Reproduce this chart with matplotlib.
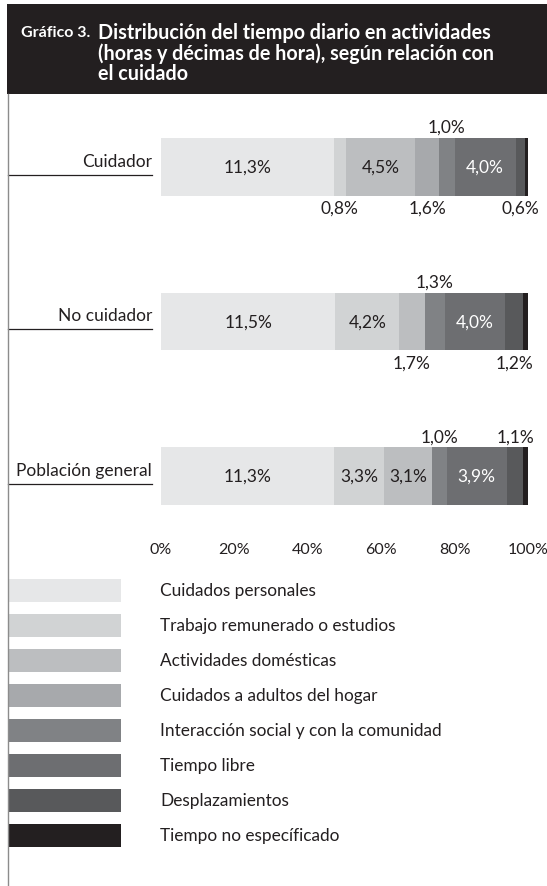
import matplotlib.pyplot as plt
from matplotlib.patches import Rectangle
from matplotlib.lines import Line2D
from matplotlib.transforms import blended_transform_factory

plt.rcParams['font.family'] = ['Lato', 'DejaVu Sans']

# datos: horas diarias por actividad
grupos = ['Cuidador', 'No cuidador', 'Población general']
actividades = ['Cuidados personales', 'Trabajo remunerado o estudios',
               'Actividades domésticas', 'Cuidados a adultos del hogar',
               'Interacción social y con la comunidad', 'Tiempo libre',
               'Desplazamientos', 'Tiempo no específicado']
cuidador = [11.3, 0.8, 4.5, 1.6, 1.0, 4.0, 0.6, 0.2]
no_cuidador = [11.5, 4.2, 1.7, 0.0, 1.3, 4.0, 1.2, 0.3]
poblacion = [11.3, 3.3, 3.1, 0.0, 1.0, 3.9, 1.1, 0.3]
ticks = [0, 20, 40, 60, 80, 100]

colores = ['#e6e7e8', '#d1d3d4', '#bcbec0', '#a7a9ac',
           '#808285', '#6d6e71', '#58595b', '#231f20']
# donde va cada etiqueta: dentro, arriba, abajo o nada
posiciones = [
    ['in', 'down', 'in', 'down', 'up', 'in', 'down', None],
    ['in', 'in', 'down', None, 'up', 'in', 'down', None],
    ['in', 'in', 'in', None, 'up', 'in', 'up', None],
]

W, H = 547, 887
oscuro = '#231f20'


def fx(x):
    return x / W


def fy(y):
    return 1 - y / H


fig = plt.figure(figsize=(W / 100, H / 100), dpi=100)

# cabecera negra
fig.add_artist(Rectangle((fx(7), fy(95)), 1 - fx(7), 90 / H,
                         transform=fig.transFigure, color=oscuro, lw=0))
fig.text(fx(21), fy(33), 'Gráfico 3.', color='white', fontsize=11.5,
         fontweight='bold', va='center')
fig.text(fx(98), fy(23),
         'Distribución del tiempo diario en actividades\n'
         '(horas y décimas de hora), según relación con\n'
         'el cuidado',
         color='white', fontsize=14.2, fontweight='bold', va='top',
         linespacing=1.0)
fig.add_artist(Line2D([fx(7.5), fx(7.5)], [fy(95), 0], color='#8c8c8c',
                      lw=1, transform=fig.transFigure))

# barras
ax = fig.add_axes([fx(161), fy(530), (528 - 161) / W, (530 - 90.5) / H])
alto = 58 / 155
filas = [cuidador, no_cuidador, poblacion]
for i, fila in enumerate(filas):
    total = sum(fila)
    izq = 0
    for j, v in enumerate(fila):
        ancho = v / total * 100
        ax.barh(i, ancho, left=izq, height=alto, color=colores[j], lw=0)
        centro = izq + ancho / 2
        etiqueta = f'{v:.1f}%'.replace('.', ',')
        pos = posiciones[i][j]
        color_txt = 'white' if j == 5 else oscuro
        if pos == 'in':
            ax.text(centro, i, etiqueta, ha='center', va='center',
                    fontsize=12.5, color=color_txt)
        elif pos == 'up':
            ax.annotate(etiqueta, (centro, i - alto / 2), xytext=(0, 2),
                        textcoords='offset points', ha='center',
                        va='bottom', fontsize=12.5, color=oscuro)
        elif pos == 'down':
            ax.annotate(etiqueta, (centro, i + alto / 2), xytext=(0, -3),
                        textcoords='offset points', ha='center', va='top',
                        fontsize=12.5, color=oscuro)
        izq += ancho

ax.set_xlim(0, 100)
ax.set_ylim(2 + (530 - 477) / 155, -0.5)
ax.set_xticks(ticks)
ax.set_xticklabels([f'{t}%' for t in ticks])
ax.set_yticks([])
ax.tick_params(axis='x', length=0, pad=9, labelsize=11.5, colors=oscuro)
for s in ax.spines.values():
    s.set_visible(False)

# nombres de grupo subrayados
trans = blended_transform_factory(ax.transAxes, ax.transData)
x0 = (8 - 161) / 367
x1 = (152 - 161) / 367
for i, g in enumerate(grupos):
    ax.text(x1, i - 0.04, g, transform=trans, ha='right', va='center',
            fontsize=12.5, color=oscuro)
    ax.plot([x0, x1], [i + 0.05, i + 0.05], transform=trans, color=oscuro,
            lw=0.9, clip_on=False)

# leyenda
for k, (nombre, c) in enumerate(zip(actividades, colores)):
    y = 591 + 35 * k
    fig.add_artist(Rectangle((fx(8), fy(y + 11.5)), (121 - 8) / W, 23 / H,
                             transform=fig.transFigure, color=c, lw=0))
    fig.text(fx(160), fy(y), nombre, va='center', fontsize=12.4,
             color=oscuro)

fig.savefig('out.png', dpi=100)
